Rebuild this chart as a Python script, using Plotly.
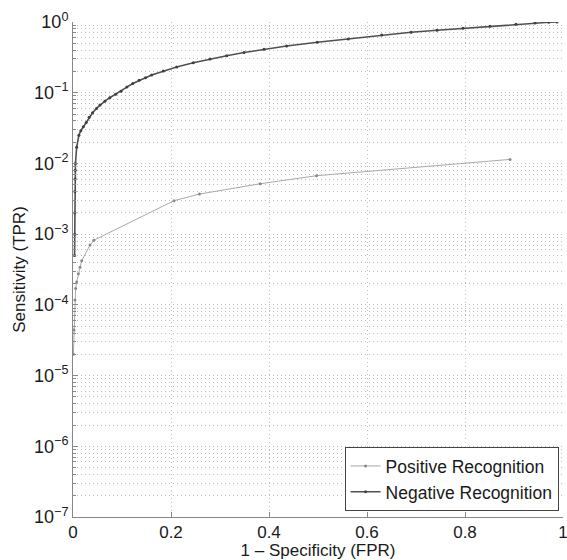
import plotly.graph_objects as go

# Positive Recognition (FPR, TPR)
pos_fpr = [0.0008, 0.002, 0.004, 0.0054, 0.0075, 0.0109, 0.0143, 0.0177, 0.0347, 0.0425,
           0.206, 0.258, 0.382, 0.497, 0.892]
pos_tpr = [2.0e-5, 4.4e-5, 1.17e-4, 1.7e-4, 2.1e-4, 2.75e-4, 3.4e-4, 4.2e-4, 7.0e-4, 8.2e-4,
           2.97e-3, 3.69e-3, 5.16e-3, 6.7e-3, 1.14e-2]

# Negative Recognition (FPR, TPR)
neg_fpr = [0.0032, 0.0035, 0.0038, 0.004, 0.0042, 0.0045, 0.005, 0.0075, 0.012, 0.016,
           0.021, 0.027, 0.033, 0.040, 0.048, 0.055, 0.065, 0.075, 0.087, 0.098,
           0.110, 0.122, 0.135, 0.148, 0.1606, 0.1843, 0.2116, 0.2455, 0.2796, 0.3137,
           0.349, 0.3898, 0.436, 0.4986, 0.5618, 0.630, 0.690, 0.743, 0.796, 0.851,
           0.904, 0.943, 0.971, 0.988]
neg_tpr = [5.0e-4, 1.0e-3, 2.0e-3, 4.0e-3, 6.0e-3, 8.0e-3, 1.0e-2, 1.7e-2, 2.5e-2, 2.9e-2,
           3.3e-2, 3.8e-2, 4.5e-2, 5.2e-2, 6.0e-2, 6.7e-2, 7.6e-2, 8.5e-2, 9.5e-2, 0.105,
           0.12, 0.135, 0.15, 0.163, 0.178, 0.203, 0.231, 0.266, 0.300, 0.334,
           0.370, 0.411, 0.458, 0.516, 0.575, 0.655, 0.715, 0.763, 0.815, 0.869,
           0.927, 0.968, 0.99, 1.0]

x_ticks = [0, 0.2, 0.4, 0.6, 0.8, 1]
x_labels = ["0", "0.2", "0.4", "0.6", "0.8", "1"]
y_ticks = [1e-7, 1e-6, 1e-5, 1e-4, 1e-3, 1e-2, 1e-1, 1]
y_labels = ["10<sup>\u22127</sup>", "10<sup>\u22126</sup>", "10<sup>\u22125</sup>",
            "10<sup>\u22124</sup>", "10<sup>\u22123</sup>", "10<sup>\u22122</sup>",
            "10<sup>\u22121</sup>", "10<sup>0</sup>"]

fig = go.Figure()
fig.add_trace(go.Scatter(
    x=pos_fpr, y=pos_tpr, mode="lines+markers", name="Positive Recognition",
    line=dict(color="#a8a8a8", width=1),
    marker=dict(color="#8a8a8a", size=3),
))
fig.add_trace(go.Scatter(
    x=neg_fpr, y=neg_tpr, mode="lines+markers", name="Negative Recognition",
    line=dict(color="#505050", width=1.6),
    marker=dict(color="#404040", size=3),
))

FAM = "Liberation Sans, Arial, sans-serif"
font = dict(family=FAM, size=18, color="#1a1a1a")
xfont = dict(family=FAM, size=17, color="#1a1a1a")
title_font = dict(family=FAM, size=17, color="#1a1a1a")
GRID = "#bcbcbc"
DASH = "1px,3px"

fig.update_layout(
    width=567, height=560,
    margin=dict(l=73, r=4, t=22, b=43),
    paper_bgcolor="white", plot_bgcolor="white",
    font=font,
    showlegend=True,
    legend=dict(
        x=0.991, y=0.012, xanchor="right", yanchor="bottom",
        bgcolor="white", bordercolor="#444", borderwidth=1,
        font=dict(family=FAM, size=17.5, color="#1a1a1a"),
        tracegroupgap=0, itemwidth=30,
    ),
    xaxis=dict(
        range=[0, 1], tickvals=x_ticks, ticktext=x_labels,
        automargin=False, ticklabeloverflow="allow",
        showline=True, linecolor="#888", linewidth=1, mirror=False,
        ticks="inside", ticklen=5, tickcolor="#888",
        showgrid=True, gridcolor=GRID, griddash=DASH, gridwidth=1,
        zeroline=False, tickfont=xfont,
        title=dict(text="1 \u2013 Specificity (FPR)", standoff=2, font=title_font),
    ),
    yaxis=dict(
        type="log", range=[-7, 0], tickvals=y_ticks, ticktext=y_labels,
        automargin=False, ticklabeloverflow="allow",
        showline=True, linecolor="#888", linewidth=1, mirror=False,
        ticks="inside", ticklen=5, tickcolor="#888",
        showgrid=True, gridcolor=GRID, griddash=DASH, gridwidth=1,
        zeroline=False, tickfont=font,
        minor=dict(dtick="D1", ticks="inside", ticklen=3, tickcolor="#888",
                   showgrid=True, gridcolor=GRID, griddash=DASH, gridwidth=1),
        title=dict(text="Sensitivity (TPR)", standoff=4, font=title_font),
    ),
)

fig.write_html(
    "out.html",
    config={"displayModeBar": False},
    post_script="document.body.style.margin='0';document.body.style.overflow='hidden';",
)
